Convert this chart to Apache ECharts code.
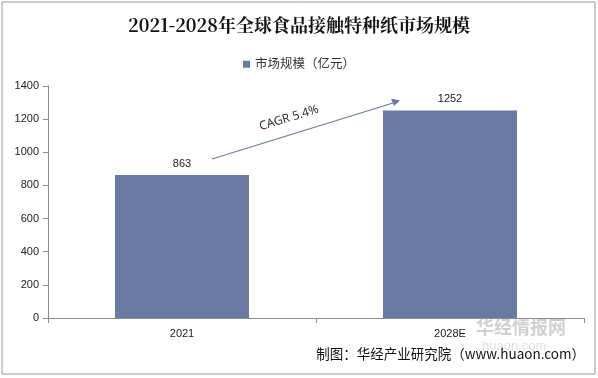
<!DOCTYPE html>
<html><head><meta charset="utf-8">
<script src="https://cdn.jsdelivr.net/npm/echarts@6/dist/echarts.min.js"></script>
<style>html,body{margin:0;padding:0;background:#fff}#c{width:598px;height:378px}</style>
</head><body><div id="c"></div>
<script>
const categories = ['2021', '2028E'];
const marketSize = [863, 1252];
const yTicks = [0, 200, 400, 600, 800, 1000, 1200, 1400];
const seriesName = '市场规模（亿元）';
const titleText = '2021-2028年全球食品接触特种纸市场规模';
const sourceText = '制图：华经产业研究院（www.huaon.com）';
const cagrText = 'CAGR 5.4%';

const chart = echarts.init(document.getElementById('c'));
const sans = '"Liberation Sans", Arial, "Noto Sans CJK SC", sans-serif';
chart.setOption({
  animation: false,
  backgroundColor: '#fff',
  title: {
    text: titleText, left: 'center', top: 11,
    textStyle: {fontFamily: '"Noto Serif CJK SC","DejaVu Serif",serif', fontSize: 18, fontWeight: 'bold', color: '#111'}
  },
  legend: {
    top: 53, left: 'center', itemWidth: 7, itemHeight: 7, itemGap: 4,
    icon: 'rect',
    textStyle: {fontFamily: sans, fontSize: 12.5, color: '#333'},
    data: [seriesName]
  },
  grid: {left: 48, right: 14, top: 86, bottom: 60},
  xAxis: {
    type: 'category', data: categories,
    axisLine: {lineStyle: {color: '#8c8c8c'}},
    axisTick: {show: true, length: 5, lineStyle: {color: '#8c8c8c'}},
    axisLabel: {fontFamily: sans, fontSize: 11, color: '#222', margin: 10}
  },
  yAxis: {
    type: 'value', min: yTicks[0], max: yTicks[yTicks.length - 1], interval: 200,
    axisLine: {show: true, lineStyle: {color: '#8c8c8c'}},
    axisTick: {show: true, length: 5, lineStyle: {color: '#8c8c8c'}},
    splitLine: {show: false},
    axisLabel: {fontFamily: sans, fontSize: 11, color: '#222', margin: 9, formatter: v => String(v)}
  },
  series: [{
    name: seriesName, type: 'bar', data: marketSize, barWidth: '50%',
    itemStyle: {color: '#6A7BA3'},
    label: {show: true, position: 'top', fontFamily: sans, fontSize: 11, color: '#222', distance: 6}
  }],
  graphic: [
    {type: 'rect', shape: {x: 2, y: 2, width: 593, height: 372}, style: {fill: 'none', stroke: '#9a9a9a', lineWidth: 1}, silent: true, z: -1},
    {type: 'line', shape: {x1: 212, y1: 159, x2: 393, y2: 103}, style: {stroke: '#6A7BA3', lineWidth: 1.3}},
    {type: 'polygon', shape: {points: [[400, 100.5], [391, 98.5], [394, 106]]}, style: {fill: '#6A7BA3'}},
    {type: 'text', x: 289, y: 118, rotation: 17 * Math.PI / 180, style: {text: cagrText, fontFamily: '"Open Sans", "DejaVu Sans", sans-serif', fontSize: 12, fill: '#222', align: 'center', verticalAlign: 'middle'}},
    {type: 'text', x: 476, y: 318, style: {text: '华经情报网', fontFamily: '"Noto Sans CJK SC", sans-serif', fontSize: 18, fontWeight: 'bold', fill: 'rgba(170,170,170,0.55)'}, z: 1},
    {type: 'text', x: 482, y: 340, style: {text: 'huaon.com', fontFamily: sans, fontSize: 13, fill: 'rgba(190,190,190,0.45)'}, z: 1},
    {type: 'text', right: 13, top: 347, style: {text: sourceText, fontFamily: '"Noto Sans CJK SC", sans-serif', fontSize: 13.5, fill: '#111'}, z: 5}
  ]
});
</script></body></html>
